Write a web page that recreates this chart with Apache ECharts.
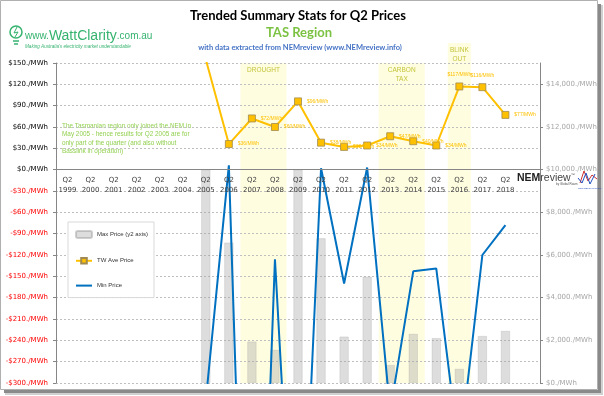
<!DOCTYPE html>
<html>
<head>
<meta charset="UTF-8">
<title></title>
<script src="https://cdn.jsdelivr.net/npm/echarts@6/dist/echarts.min.js"></script>
<style>
html, body { margin: 0; padding: 0; background: #fff; }
#main { width: 604px; height: 396px; }
</style>
</head>
<body>
<div id="main"></div>
<script>
// Q2 of each year; the last slot is an empty spacer before the y2 axis
var years = ['1999', '2000', '2001', '2002', '2003', '2004', '2005', '2006', '2007', '2008',
	'2009', '2010', '2011', '2012', '2013', '2014', '2015', '2016', '2017', '2018', ''];
var maxPrice = [null, null, null, null, null, null, 10000, 6580, 1940, 1550,
	10000, 6780, 2170, 4980, 840, 2300, 2100, 660, 2200, 2440, null];
var avePrice = [null, null, null, null, null, null, 155, 36, 72, 60,
	96, 38, 32, 34, 47, 40, 34, 117, 116, 77, null];
var minPrice = [null, null, null, null, null, null, -325, 6, -1000, -126,
	-710, 2, -160, 3, -340, -143, -139, -400, -120, -78, null];
var events = ['DROUGHT', 'CARBON\nTAX', 'BLINK\nOUT'];
var eventFrom = ['2007', '2013', '2016'];
var eventTo = ['2008', '2014', '2016'];

var leftMin = -300, leftMax = 150;
var axisFont = 'DejaVu Sans';
var green = '#35b36f';

var eventData = events.map(function (name, i) {
	return [years.indexOf(eventFrom[i]), years.indexOf(eventTo[i]), name];
});

var aveData = avePrice.map(function (v) {
	if (v == null) return null;
	return { value: v, label: { position: v > 100 ? 'top' : 'right' } };
});

var myChart = echarts.init(document.getElementById('main'));

myChart.setOption({
	backgroundColor: '#fff',
	animation: false,
	grid: { left: 56, right: 64, top: 63, bottom: 13, containLabel: false, outerBoundsMode: 'none' },
	legend: {
		data: [
			{ name: 'Max Price (y2 axis)' },
			{ name: 'TW Ave Price' },
			{ name: 'Min Price', icon: 'path://M0,0h16v2h-16z' }
		],
		orient: 'vertical',
		left: 68,
		top: 222,
		width: 81,
		itemWidth: 16,
		itemHeight: 7,
		itemGap: 18,
		padding: [8, 6, 9, 7],
		borderColor: '#d9d9d9',
		borderWidth: 1,
		backgroundColor: '#fff',
		textStyle: { fontFamily: 'Liberation Sans', fontSize: 6, color: '#333' }
	},
	xAxis: {
		type: 'category',
		data: years.map(function (y) { return y ? 'Q2\n' + y : ''; }),
		axisLine: { onZero: false, lineStyle: { color: '#868686', width: 1 } },
		axisTick: { interval: 0, length: 4, lineStyle: { color: '#868686' } },
		axisLabel: {
			interval: 0, fontFamily: axisFont, fontSize: 7, color: '#404040',
			lineHeight: 10, margin: 6
		},
		splitLine: { show: false },
		z: 5
	},
	yAxis: [{
		type: 'value',
		min: leftMin,
		max: leftMax,
		interval: 30,
		axisLine: { show: true, lineStyle: { color: '#868686' } },
		axisTick: { show: true, length: 3, lineStyle: { color: '#868686' } },
		axisLabel: {
			fontFamily: axisFont, fontSize: 7, margin: 8,
			color: function (v) { return v < 0 ? '#ff0000' : '#000'; },
			formatter: function (v) { return v < 0 ? '-$' + (-v) + './MWh' : '$' + v + './MWh'; }
		},
		splitLine: { lineStyle: { color: '#bfbfbf', type: [2, 2] } }
	}, {
		type: 'value',
		position: 'right',
		min: 0,
		max: 15000,
		interval: 2000,
		axisLine: { show: true, lineStyle: { color: '#868686' } },
		axisTick: { show: true, length: 3, lineStyle: { color: '#868686' } },
		axisLabel: {
			fontFamily: axisFont, fontSize: 7, margin: 6, color: '#a6a6a6', showMaxLabel: false,
			formatter: function (v) { return '$' + v.toLocaleString('en-US') + './MWh'; }
		},
		splitLine: { show: false }
	}],
	series: [{
		name: 'events',
		type: 'custom',
		z: -1,
		clip: false,
		silent: true,
		data: eventData,
		renderItem: function (params, api) {
			var i0 = api.value(0), i1 = api.value(1);
			var name = eventData[params.dataIndex][2];
			var w = api.size([1, 0])[0];
			var pTop = api.coord([i0, leftMax]);
			var pBot = api.coord([i1, leftMin]);
			var x0 = pTop[0] - w / 2, x1 = pBot[0] + w / 2;
			// a one-quarter band is too narrow for its label, so it rises above the plot
			var extra = i0 === i1 ? 20 : 0;
			var top = pTop[1] - extra;
			return {
				type: 'group',
				children: [{
					type: 'rect',
					shape: { x: x0, y: top, width: x1 - x0, height: pBot[1] - top },
					style: { fill: '#fffde0' }
				}, {
					type: 'text',
					x: (x0 + x1) / 2,
					y: top + 3,
					style: {
						text: name, fill: '#c4c43a', fontFamily: 'Liberation Sans', fontSize: 6.5,
						lineHeight: 8.5, align: 'center', verticalAlign: 'top'
					}
				}]
			};
		}
	}, {
		name: 'Max Price (y2 axis)',
		type: 'bar',
		yAxisIndex: 1,
		barWidth: 9,
		data: maxPrice,
		itemStyle: { color: 'rgba(165,165,165,0.38)', borderColor: 'rgba(150,150,150,0.45)', borderWidth: 0.5 }
	}, {
		name: 'TW Ave Price',
		type: 'line',
		data: aveData,
		symbol: 'rect',
		symbolSize: 7,
		lineStyle: { color: '#ffc000', width: 2 },
		itemStyle: { color: '#ffc000', borderColor: '#a08a50', borderWidth: 0.8 },
		label: {
			show: true, distance: 5, fontFamily: 'Liberation Sans', fontSize: 5, color: '#ffc000',
			formatter: function (p) { return p.value > leftMax ? '' : '$' + Math.round(p.value) + '/MWh'; }
		},
		z: 4
	}, {
		name: 'Min Price',
		type: 'line',
		data: minPrice,
		symbol: 'none',
		lineStyle: { color: '#0070c0', width: 2 },
		itemStyle: { color: '#0070c0' },
		z: 3
	}],
	graphic: [
		// frame and shadow
		{ type: 'rect', shape: { x: 0.5, y: 0.5, width: 597, height: 389 }, style: { fill: null, stroke: '#b0b0b0', lineWidth: 1 } },
		{ type: 'rect', shape: { x: 598, y: 4, width: 3, height: 389 }, style: { fill: '#8a8a8a' } },
		{ type: 'rect', shape: { x: 4, y: 390, width: 597, height: 3 }, style: { fill: '#8a8a8a' } },
		{ type: 'rect', shape: { x: 601, y: 5, width: 2, height: 390 }, style: { fill: '#d0d0d0' } },
		{ type: 'rect', shape: { x: 5, y: 393, width: 598, height: 2 }, style: { fill: '#d0d0d0' } },
		// titles
		{ type: 'text', x: 298, y: 16, style: { text: 'Trended Summary Stats for Q2 Prices', fill: '#000', font: 'bold 13px Lato', align: 'center', verticalAlign: 'middle' } },
		{ type: 'text', x: 299, y: 33, style: { text: 'TAS Region', fill: '#7cc242', font: 'bold 13px Lato', align: 'center', verticalAlign: 'middle' } },
		{ type: 'text', x: 300, y: 48, style: { text: 'with data extracted from NEMreview (www.NEMreview.info)', fill: '#4472c4', font: 'bold 7.5px Lato', align: 'center', verticalAlign: 'middle' } },
		// WattClarity logo
		{ type: 'circle', shape: { cx: 16, cy: 32, r: 6 }, style: { fill: null, stroke: green, lineWidth: 1.5 } },
		{ type: 'polyline', shape: { points: [[17, 27], [14, 33], [18, 32], [15, 37]] }, style: { fill: null, stroke: green, lineWidth: 1 } },
		{ type: 'line', shape: { x1: 13, y1: 41, x2: 19, y2: 41 }, style: { stroke: green, lineWidth: 1.5 } },
		{ type: 'line', shape: { x1: 14, y1: 44, x2: 18, y2: 44 }, style: { stroke: green, lineWidth: 1.5 } },
		{
			type: 'text', x: 25, y: 36,
			style: {
				text: '{a|www.}{b|WattClarity}{a|.com.au}', verticalAlign: 'middle',
				rich: {
					a: { fill: green, fontFamily: 'Liberation Sans', fontSize: 10 },
					b: { fill: green, fontFamily: 'Liberation Sans', fontSize: 14 }
				}
			}
		},
		{ type: 'text', x: 25, y: 47, style: { text: "Making Australia's electricity market understandable", fill: green, font: 'italic 4.6px Liberation Sans', verticalAlign: 'middle' } },
		// note about Q2 2005
		{
			type: 'text', x: 62, y: 122,
			style: {
				text: 'The Tasmanian region only joined the NEM in\nMay 2005 - hence results for Q2 2005 are for\nonly part of the quarter (and also without\nBasslink in operation)',
				fill: '#92d050', fontFamily: 'Liberation Sans', fontSize: 6.4, lineHeight: 8.3
			}
		},
		// NEMreview logo
		{
			type: 'text', x: 517, y: 178,
			style: {
				text: '{a|NEM}{b|review}{c|™}', verticalAlign: 'middle',
				rich: {
					a: { fill: '#222', fontFamily: 'Liberation Sans', fontWeight: 'bold', fontSize: 10.5 },
					b: { fill: '#444', fontFamily: 'Liberation Sans', fontSize: 10.5 },
					c: { fill: '#444', fontFamily: 'Liberation Sans', fontSize: 4, verticalAlign: 'top' }
				}
			}
		},
		{ type: 'text', x: 556, y: 184, style: { text: 'by Global Roam', fill: '#555', font: '3px Liberation Sans', verticalAlign: 'middle' } },
		{ type: 'polyline', shape: { points: [[580, 183], [584, 171], [588, 181], [592, 175], [597, 179]] }, style: { fill: null, stroke: '#d03030', lineWidth: 1 } },
		{ type: 'polyline', shape: { points: [[578, 178], [582, 183], [586, 173], [590, 184], [595, 174]] }, style: { fill: null, stroke: '#2050c0', lineWidth: 1 } },
		{ type: 'text', x: 578, y: 188, style: { text: 'www.NEMreview.info', fill: '#2050c0', font: '2.5px Liberation Sans', verticalAlign: 'middle' } }
	]
});

// put the category axis on the $0 line of the left axis
var yZero = myChart.convertToPixel({ yAxisIndex: 0 }, 0);
var yBottom = myChart.convertToPixel({ yAxisIndex: 0 }, leftMin);
myChart.setOption({ xAxis: { offset: -(yBottom - yZero) } });
</script>
</body>
</html>
